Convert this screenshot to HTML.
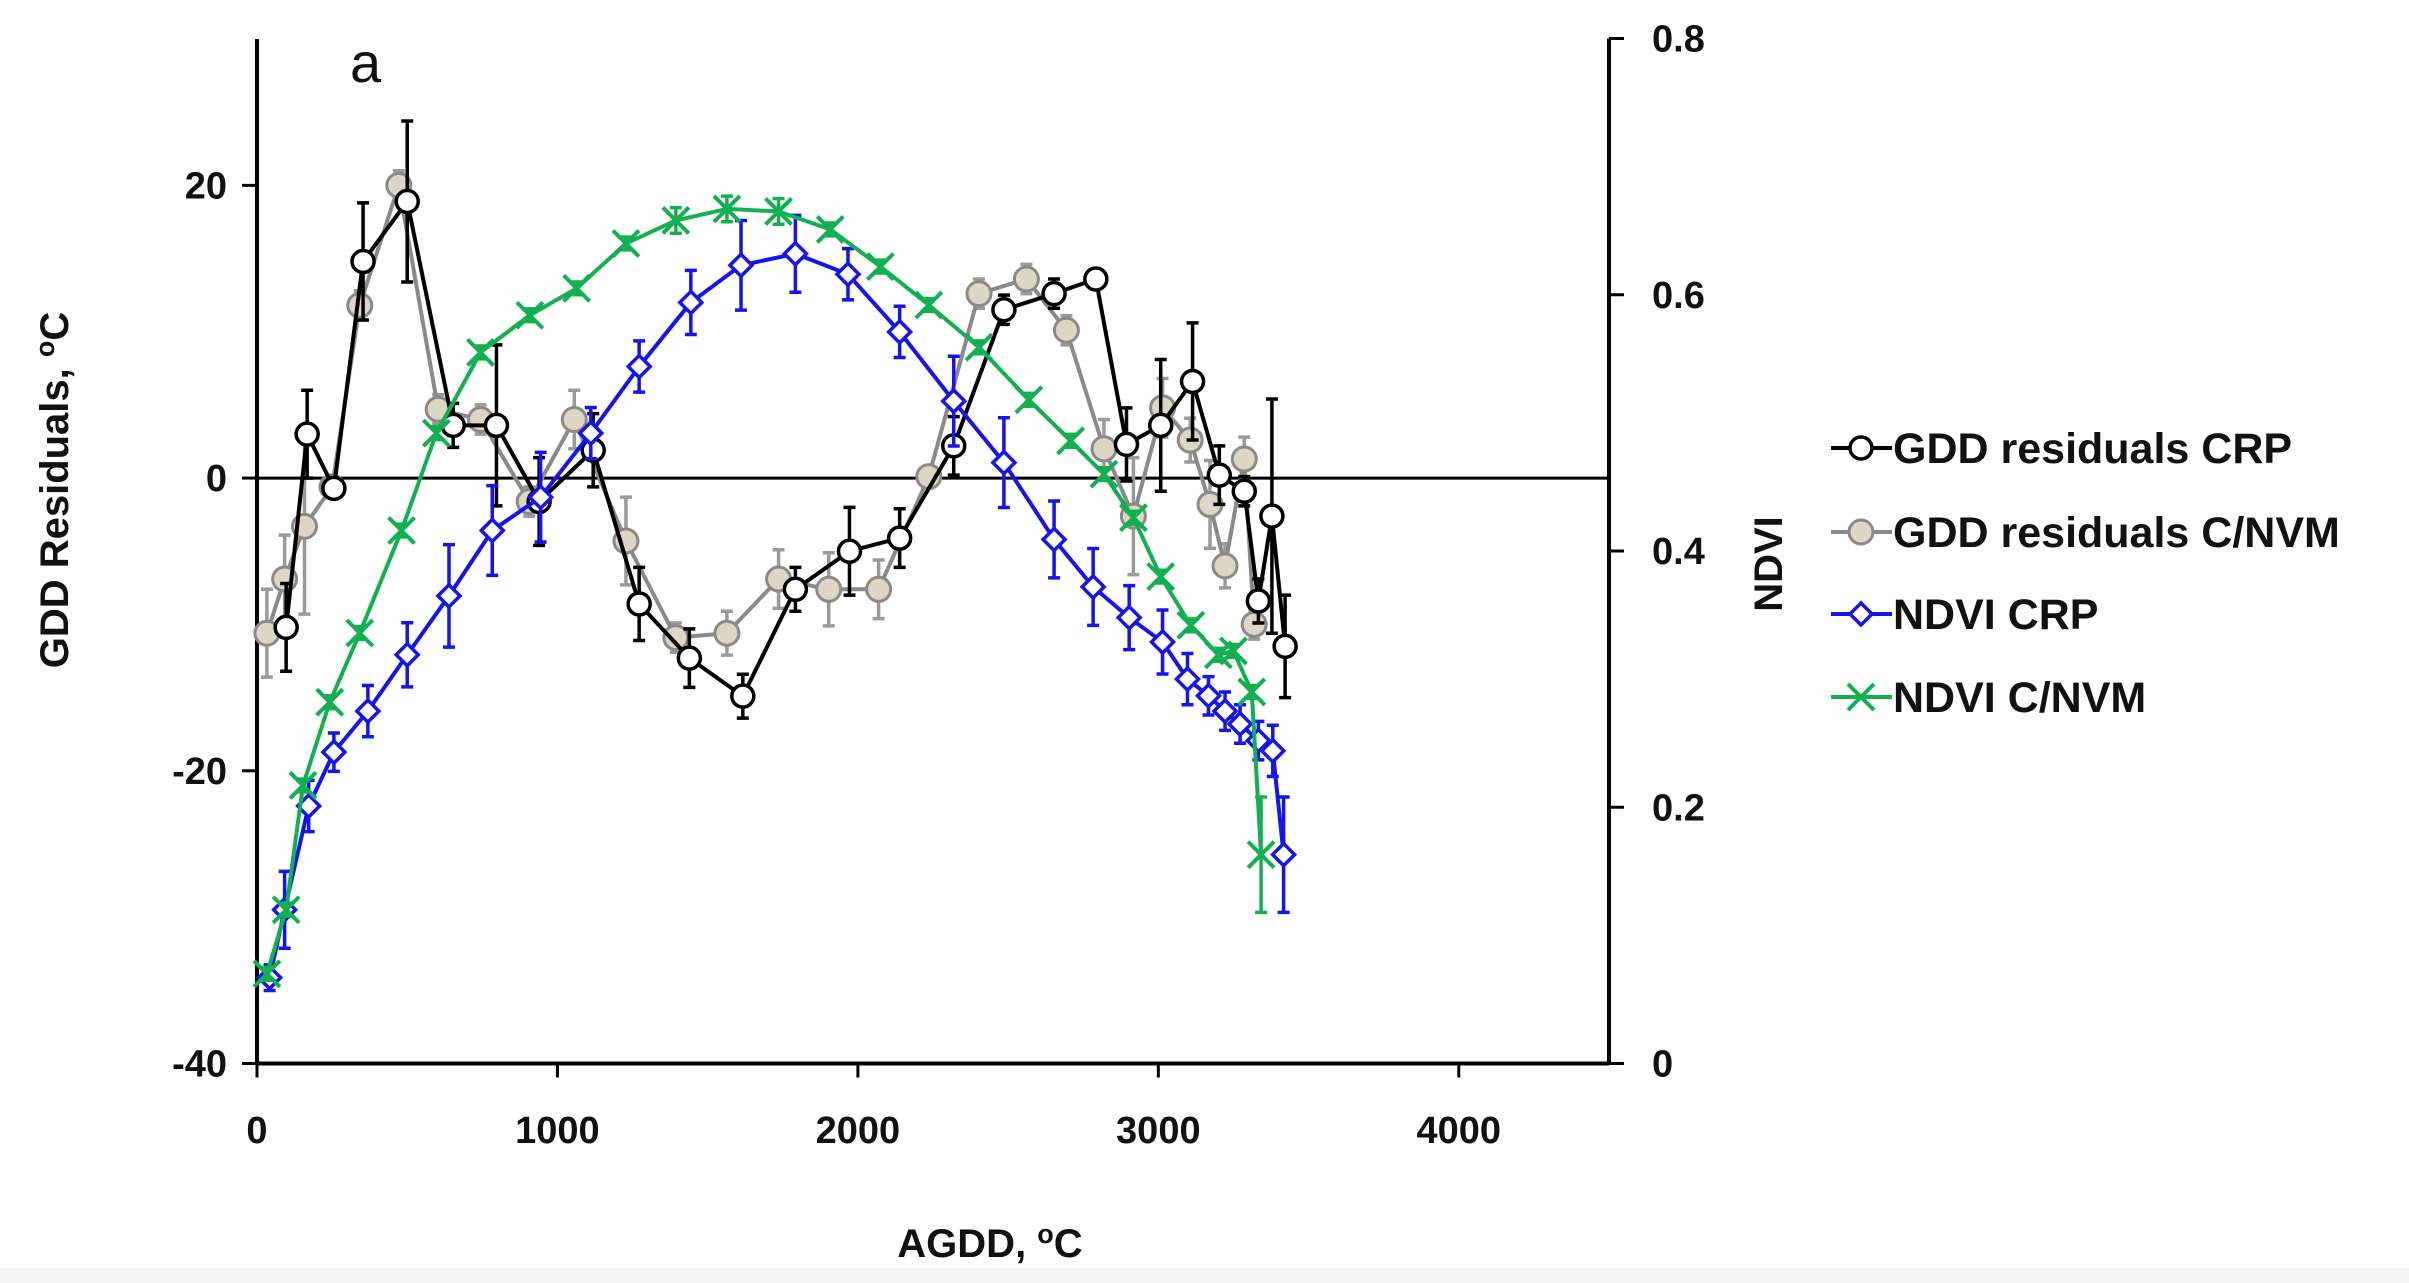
<!DOCTYPE html>
<html><head><meta charset="utf-8"><style>
html,body{margin:0;padding:0;background:#fff}
svg{display:block}
text{font-family:"Liberation Sans",sans-serif;font-weight:bold;fill:#111}
</style></head><body>
<svg id="chart" width="2409" height="1283" viewBox="0 0 2409 1283" xmlns="http://www.w3.org/2000/svg">
<rect x="0" y="1268" width="2409" height="15" fill="#f4f4f4"/>
<g id="axes"></g>
<g id="series"></g>
<g id="legend"></g>
</svg>
<script>
// ---- data ----
const xTicks = [0, 1000, 2000, 3000, 4000];
const yTicks = [-40, -20, 0, 20];
const y2Ticks = [0, 0.2, 0.4, 0.6, 0.8];
const y2TickLabels = ["0", "0.2", "0.4", "0.6", "0.8"];

const crpResX = [97,167,256,353,500,653,797,939,1119,1272,1439,1617,1792,1972,2139,2319,2486,2653,2792,2894,3008,3114,3203,3286,3333,3378,3422];
const crpResY = [-10.2,3,-0.7,14.8,18.9,3.6,3.6,-1.6,1.9,-8.6,-12.3,-14.9,-7.6,-5,-4.1,2.2,11.5,12.6,13.6,2.3,3.6,6.6,0.2,-0.9,-8.4,-2.6,-11.5];
const crpResErr = [3,3,0.5,4,5.5,1.5,5.5,3,2.5,2.5,2,1.5,1.5,3,2,2,1,1,0.5,2.5,4.5,4,2,1,1.5,8,3.5];

const cnvmResX = [33,92,158,250,342,472,603,744,906,1056,1228,1394,1564,1736,1903,2069,2236,2403,2561,2694,2819,2917,3014,3106,3172,3222,3286,3319];
const cnvmResY = [-10.6,-6.9,-3.3,-0.6,11.8,20,4.7,4.0,-1.6,4.0,-4.3,-10.9,-10.6,-6.9,-7.6,-7.6,0.1,12.6,13.6,10.1,2.0,-2.6,4.8,2.6,-1.8,-6.0,1.3,-10.0];
const cnvmResErr = [3,3,6,0.5,1,1,1,1,1,2,3,1,1.5,2,2.5,2,0.5,1,1,1,2,4,2,1.5,3,1.5,1.5,1];

const crpNdviX = [42,92,172,256,369,500,639,783,944,1111,1272,1444,1611,1792,1967,2139,2319,2486,2653,2783,2903,3014,3097,3167,3222,3272,3333,3381,3417];
const crpNdviY = [0.067,0.12,0.201,0.243,0.275,0.319,0.365,0.416,0.442,0.492,0.544,0.594,0.623,0.632,0.616,0.571,0.517,0.469,0.409,0.372,0.348,0.329,0.300,0.287,0.275,0.265,0.252,0.244,0.163];
const crpNdviErr = [0.01,0.03,0.02,0.015,0.02,0.025,0.04,0.035,0.035,0.02,0.02,0.025,0.035,0.03,0.02,0.02,0.035,0.035,0.03,0.03,0.025,0.025,0.02,0.015,0.015,0.015,0.015,0.02,0.045];

const cnvmNdviX = [33,97,153,242,342,481,597,744,908,1064,1228,1394,1564,1736,1908,2075,2236,2403,2569,2708,2819,2917,3008,3108,3200,3250,3311,3342];
const cnvmNdviY = [0.070,0.12,0.217,0.282,0.336,0.416,0.492,0.555,0.584,0.605,0.640,0.658,0.667,0.665,0.651,0.622,0.592,0.559,0.518,0.486,0.460,0.426,0.380,0.342,0.319,0.322,0.290,0.163];
const cnvmNdviErr = [0.005,0.005,0.005,0.005,0.005,0.005,0.005,0.005,0.005,0.005,0.005,0.01,0.01,0.01,0.005,0.005,0.005,0.005,0.005,0.005,0.005,0.005,0.005,0.005,0.005,0.005,0.005,0.045];

// ---- scales ----
const X0 = 257, X1 = 1609, XMAX = 4500;
const YTOP = 39, YBOT = 1063.5, YMIN = -40, YMAX = 30;
const sx = v => X0 + (v / XMAX) * (X1 - X0);
const sy = v => YBOT - (v - YMIN) / (YMAX - YMIN) * (YBOT - YTOP);
const sy2 = v => YBOT - (v / 0.8) * (YBOT - 38.5);
const NS = "http://www.w3.org/2000/svg";
function mk(tag, attrs, parent) {
  const e = document.createElementNS(NS, tag);
  for (const k in attrs) e.setAttribute(k, attrs[k]);
  parent.appendChild(e);
  return e;
}
const axes = document.getElementById('axes');
const series = document.getElementById('series');
const legend = document.getElementById('legend');

let a = mk('line', {x1:X0, y1:YTOP, x2:X0, y2:YBOT, stroke:'#000', 'stroke-width':4}, axes);


a = mk('line', {x1:X0, y1:YBOT, x2:X1, y2:YBOT, stroke:'#000', 'stroke-width':4}, axes);


a = mk('line', {x1:X1, y1:38.5, x2:X1, y2:YBOT, stroke:'#000', 'stroke-width':4}, axes);


a = mk('line', {x1:X0, y1:sy(0), x2:X1, y2:sy(0), stroke:'#000', 'stroke-width':3}, axes);



xTicks.forEach(v => {
  const t = mk('line', {x1:sx(v), y1:YBOT, x2:sx(v), y2:YBOT+14, stroke:'#000', 'stroke-width':3}, axes);
  
  
  const l = mk('text', {x:sx(v), y:1143, 'font-size':38, 'text-anchor':'middle'}, axes);
  l.textContent = v;
  
  
});
yTicks.forEach(v => {
  const t = mk('line', {x1:X0-15, y1:sy(v), x2:X0, y2:sy(v), stroke:'#000', 'stroke-width':3}, axes);
  
  
  const l = mk('text', {x:X0-30, y:sy(v)+13, 'font-size':38, 'text-anchor':'end'}, axes);
  l.textContent = v;
  
  
});
y2Ticks.forEach((v, i) => {
  const t = mk('line', {x1:X1, y1:sy2(v), x2:X1+15, y2:sy2(v), stroke:'#000', 'stroke-width':3}, axes);
  
  
  const l = mk('text', {x:X1+43, y:sy2(v)+13, 'font-size':38, 'text-anchor':'start'}, axes);
  l.textContent = y2TickLabels[i];
  
  
});
let lab = mk('text', {x:0, y:0, 'font-size':40, 'text-anchor':'middle', transform:'translate(68,490) rotate(-90)'}, axes);
lab.innerHTML = 'GDD Residuals, <tspan dy="-14" font-size="27">o</tspan><tspan dy="14">C</tspan>';


lab = mk('text', {x:0, y:0, 'font-size':40, 'text-anchor':'middle', transform:'translate(1782,564) rotate(-90)'}, axes);
lab.textContent = 'NDVI';


lab = mk('text', {x:990, y:1257, 'font-size':40, 'text-anchor':'middle'}, axes);
lab.innerHTML = 'AGDD, <tspan dy="-14" font-size="27">o</tspan><tspan dy="14">C</tspan>';


lab = mk('text', {x:350, y:82, 'font-size':56}, axes);
lab.setAttribute('style', 'font-weight:normal');
lab.textContent = 'a';



function marker(type, x, y, color, parent) {
  let m;
  if (type === 'circle') m = mk('circle', {cx:x, cy:y, r:11, fill:'#fff', stroke:'#000', 'stroke-width':3.5}, parent);
  else if (type === 'gcircle') m = mk('circle', {cx:x, cy:y, r:12, fill:'#dcd6c2', stroke:'#8a8a8a', 'stroke-width':3}, parent);
  else if (type === 'diamond') m = mk('path', {d:`M${x-11},${y} L${x},${y-11} L${x+11},${y} L${x},${y+11} Z`, fill:'#fff', stroke:color, 'stroke-width':3.5}, parent);
  else m = mk('path', {d:`M${x-13},${y-13} L${x+13},${y+13} M${x-13},${y+13} L${x+13},${y-13}`, fill:'none', stroke:color, 'stroke-width':4}, parent);
  return m;
}

function drawSeries(name, xs, ys, errs, yscale, color, errColor, mtype) {
  const g = mk('g', {}, series);
  
  
  xs.forEach((xv, i) => {
    const x = sx(xv), y1 = yscale(ys[i] - errs[i]), y2 = yscale(ys[i] + errs[i]);
    const e = mk('path', {d:`M${x},${y1} L${x},${y2} M${x-6},${y1} L${x+6},${y1} M${x-6},${y2} L${x+6},${y2}`, stroke:errColor, 'stroke-width':3.5, fill:'none'}, g);
    
    
  });
  const pts = xs.map((xv, i) => sx(xv) + ',' + yscale(ys[i])).join(' ');
  const pl = mk('polyline', {points:pts, fill:'none', stroke:color, 'stroke-width':4, 'stroke-linejoin':'round'}, g);
  
  
  xs.forEach((xv, i) => {
    const m = marker(mtype, sx(xv), yscale(ys[i]), color, g);
    
    
  });
}
drawSeries('series-gdd-residuals-cnvm', cnvmResX, cnvmResY, cnvmResErr, sy, '#8a8a8a', '#9a9a9a', 'gcircle');
drawSeries('series-gdd-residuals-crp', crpResX, crpResY, crpResErr, sy, '#000', '#000', 'circle');
drawSeries('series-ndvi-crp', crpNdviX, crpNdviY, crpNdviErr, sy2, '#1414f0', '#1414f0', 'diamond');
drawSeries('series-ndvi-cnvm', cnvmNdviX, cnvmNdviY, cnvmNdviErr, sy2, '#12b050', '#12b050', 'cross');

const legItems = [
  ['GDD residuals CRP', '#000', 'circle'],
  ['GDD residuals C/NVM', '#8a8a8a', 'gcircle'],
  ['NDVI CRP', '#1414f0', 'diamond'],
  ['NDVI C/NVM', '#12b050', 'cross']
];
const legY = [448, 532, 614, 697];
legItems.forEach((it, i) => {
  const g = mk('g', {}, legend);
  
  
  const y = legY[i];
  mk('line', {x1:1831, y1:y, x2:1892, y2:y, stroke:it[1], 'stroke-width':4}, g);
  marker(it[2], 1861, y, it[1], g);
  const t = mk('text', {x:1893, y:y+15, 'font-size':43}, g);
  t.textContent = it[0];
});
</script>
</body></html>
